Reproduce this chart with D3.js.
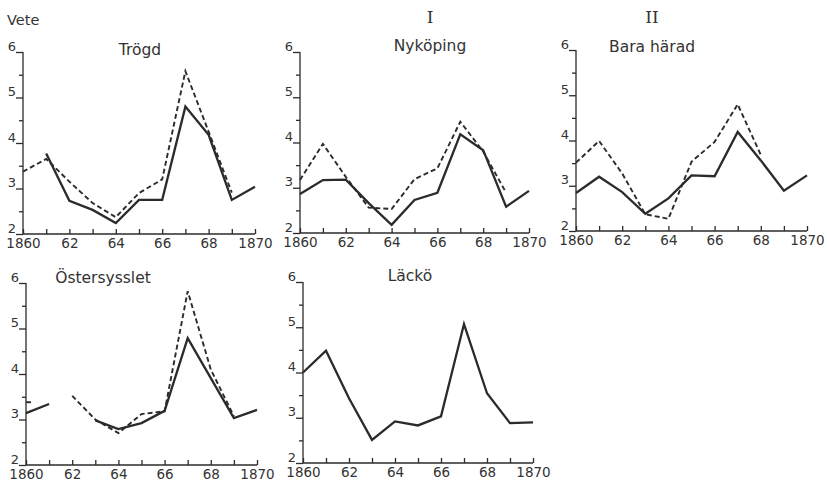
<!DOCTYPE html>
<html>
<head>
<meta charset="utf-8">
<script src="https://cdn.jsdelivr.net/npm/d3@7"></script>
<style>
  html, body { margin: 0; padding: 0; background: #fff; }
  svg { display: block; }
  text { font-family: "DejaVu Sans", "Open Sans", sans-serif; font-weight: normal; fill: #333; }
</style>
</head>
<body>
<svg id="chart" width="827" height="486"></svg>
<script>
// ---- data ----
const years = [1860, 1861, 1862, 1863, 1864, 1865, 1866, 1867, 1868, 1869, 1870];
const yTicks = [2, 3, 4, 5, 6];
const yMinorTicks = [2.5, 3.5, 4.5, 5.5];
const xTickLabels = ["1860", "", "62", "", "64", "", "66", "", "68", "", "1870"];
const cropLabel = "Vete";

const panelNames = ["Trögd", "Nyköping", "Bara härad", "Östersysslet", "Läckö"];
const panelHeads = ["", "I", "II", "", ""];

const trogdSolid   = [null, 3.77, 2.73, 2.53, 2.24, 2.75, 2.75, 4.80, 4.18, 2.75, 3.04];
const trogdDashed  = [3.37, 3.65, 3.15, 2.68, 2.37, 2.90, 3.20, 5.58, 4.25, 2.91, null];
const nykSolid     = [2.86, 3.17, 3.18, 2.66, 2.18, 2.73, 2.89, 4.18, 3.83, 2.58, 2.93];
const nykDashed    = [3.17, 3.97, 3.24, 2.56, 2.53, 3.19, 3.43, 4.46, 3.80, 2.89, null];
const baraSolid    = [2.84, 3.20, 2.86, 2.38, 2.72, 3.23, 3.21, 4.19, 3.56, 2.89, 3.23];
const baraDashed   = [3.51, 3.99, 3.27, 2.37, 2.27, 3.53, 3.97, 4.80, 3.68, null, null];
const ostSolid     = [3.14, 3.34, null, 2.98, 2.79, 2.92, 3.19, 4.79, 3.91, 3.03, 3.21];
const ostDashed    = [3.38, null, 3.52, 3.00, 2.70, 3.12, 3.18, 5.82, 4.10, 3.07, null];
const lackoSolid   = [4.00, 4.48, 3.43, 2.51, 2.92, 2.83, 3.03, 5.07, 3.54, 2.88, 2.90];

const solidSeries  = [trogdSolid, nykSolid, baraSolid, ostSolid, lackoSolid];
const dashedSeries = [trogdDashed, nykDashed, baraDashed, ostDashed, null];

// ---- layout ----
const panels = [
  { x0: 23,  x1: 255, yTop: 52,  yBot: 234, titleX: 140, titleY: 55, headY: 23 },
  { x0: 300, x1: 529, yTop: 52,  yBot: 233, titleX: 430, titleY: 51, headY: 23 },
  { x0: 576, x1: 807, yTop: 50,  yBot: 231, titleX: 652, titleY: 52, headY: 23 },
  { x0: 26,  x1: 257, yTop: 283, yBot: 465, titleX: 103, titleY: 283, headY: 0 },
  { x0: 303, x1: 533, yTop: 282, yBot: 463, titleX: 410, titleY: 281, headY: 0 }
];

const svg = d3.select("#chart");
const ink = "#2b2b2b";
const textInk = "#333";
const fontStack = "'DejaVu Sans', 'Open Sans', sans-serif";

svg.append("text")
  .attr("x", 7).attr("y", 25)
  .style("font-size", "14.5px")
  .text(cropLabel);

panels.forEach((p, i) => {
  const x = d3.scaleLinear().domain([years[0], years[years.length - 1]]).range([p.x0, p.x1]);
  const y = d3.scaleLinear().domain([2, 6]).range([p.yBot, p.yTop]);
  const g = svg.append("g");

  // x axis
  const xAxis = d3.axisBottom(x)
    .tickValues(years)
    .tickSize(-5)
    .tickPadding(4)
    .tickFormat((d, k) => xTickLabels[k]);
  const gx = g.append("g").attr("transform", `translate(0,${p.yBot})`).call(xAxis);
  gx.select(".domain").attr("d", `M${p.x0},0H${p.x1}`);
  gx.selectAll(".tick text")
    .style("font-size", "13.5px").style("fill", textInk).style("font-family", fontStack);

  // y axis
  const yAxis = d3.axisLeft(y).tickValues(yTicks).tickSize(7).tickPadding(1).tickFormat(d3.format("d"));
  const gy = g.append("g").attr("transform", `translate(${p.x0},0)`).call(yAxis);
  gy.select(".domain").attr("d", `M0,${p.yTop}V${p.yBot}`);
  gy.selectAll(".tick text")
    .attr("dy", "-2").attr("text-anchor", "end").attr("x", -7)
    .style("font-size", "13px").style("fill", textInk).style("font-family", fontStack);

  const gyMinor = d3.axisLeft(y).tickValues(yMinorTicks).tickSize(4).tickFormat("");
  const gm = g.append("g").attr("transform", `translate(${p.x0},0)`).call(gyMinor);
  gm.select(".domain").remove();

  g.selectAll(".domain, .tick line").attr("stroke", ink).attr("stroke-width", 1.3);

  // titles
  if (panelHeads[i]) {
    g.append("text").attr("x", p.titleX).attr("y", p.headY)
      .attr("text-anchor", "middle")
      .style("font-size", "17px")
      .style("font-family", "'DejaVu Serif', 'Liberation Serif', serif")
      .style("font-weight", "normal")
      .text(panelHeads[i]);
  }
  g.append("text").attr("x", p.titleX).attr("y", p.titleY)
    .attr("text-anchor", "middle")
    .style("font-size", "15.5px")
    .text(panelNames[i]);

  const line = d3.line()
    .defined(d => d[1] !== null)
    .x(d => x(d[0]))
    .y(d => y(d[1]));

  const ds = dashedSeries[i];
  if (ds) {
    const pts = years.map((yr, k) => [yr, ds[k]]);
    g.append("path").datum(pts)
      .attr("d", line)
      .attr("fill", "none").attr("stroke", ink)
      .attr("stroke-width", 1.9)
      .attr("stroke-dasharray", "5,3");
    // isolated points: short dash
    pts.forEach((d, k) => {
      const prev = k > 0 ? ds[k - 1] : null;
      const next = k < ds.length - 1 ? ds[k + 1] : null;
      if (d[1] !== null && prev === null && next === null) {
        g.append("line")
          .attr("x1", x(d[0])).attr("x2", x(d[0]) + 5)
          .attr("y1", y(d[1])).attr("y2", y(d[1]))
          .attr("stroke", ink).attr("stroke-width", 1.9);
      }
    });
  }

  const ss = solidSeries[i];
  g.append("path").datum(years.map((yr, k) => [yr, ss[k]]))
    .attr("d", line)
    .attr("fill", "none").attr("stroke", ink)
    .attr("stroke-width", 2.3)
    .attr("stroke-linejoin", "miter");
});
</script>
</body>
</html>
